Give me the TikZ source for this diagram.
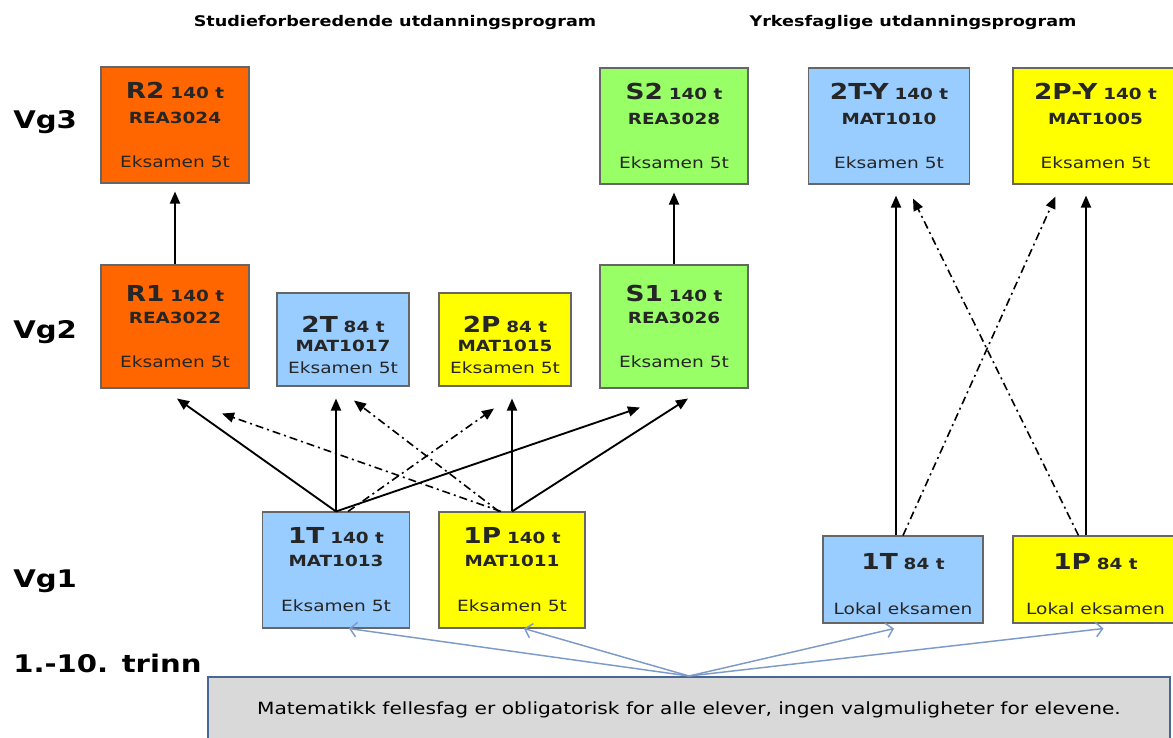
\documentclass[tikz,border=0pt]{standalone}
\usepackage{fontspec}
\setmainfont{DejaVu Sans}[FakeStretch=1.2]
\usetikzlibrary{arrows.meta,calc}

\definecolor{oransje}{RGB}{255,102,0}
\definecolor{gronn}{RGB}{153,255,102}
\definecolor{lysbla}{RGB}{153,204,255}
\definecolor{gul}{RGB}{255,255,0}
\definecolor{gra}{RGB}{217,217,217}
\definecolor{rammebla}{RGB}{72,102,150}
\definecolor{pilbla}{RGB}{125,155,200}

\newcommand{\kurs}[2]{{\fontsize{16.5}{16.5}\selectfont\bfseries #1} {\fontsize{11.5}{11.5}\selectfont\bfseries #2}}
\newcommand{\kode}[1]{{\fontsize{11.5}{11.5}\selectfont\bfseries #1}}

\tikzset{
  boks/.style 2 args={draw=black!60, line width=0.8pt, inner sep=0pt, align=center,
    text=black!85, font=\fontsize{11.6}{14}\selectfont,
    minimum width=#1*0.75pt, minimum height=#2*0.75pt},
  pil/.style={line width=1.4pt, -{Triangle[length=9pt,width=7.5pt]}},
  strek/.style={line width=1.2pt, dash pattern=on 6pt off 3pt on 1.5pt off 3pt},
  blapil/.style={pilbla, line width=1.1pt, -{Straight Barb[length=5pt,width=11pt]}},
  niva/.style={font=\fontsize{18.2}{18.2}\selectfont\bfseries, anchor=base west, inner sep=0pt},
  overskrift/.style={font=\fontsize{11}{11}\selectfont\bfseries, anchor=base, inner sep=0pt},
}

\begin{document}
\begin{tikzpicture}[x=0.75pt,y=-0.75pt]
  \path[fill=white, use as bounding box] (0,0) rectangle (1173,738);

  \node[overskrift] (studie) at (395,27) {Studieforberedende utdanningsprogram};
  \node[overskrift] (yrke)   at (913,27) {Yrkesfaglige utdanningsprogram};

  \node[niva] (vg3)   at (13,128) {Vg3};
  \node[niva] (vg2)   at (13,338) {Vg2};
  \node[niva] (vg1)   at (13,587) {Vg1};
  \node[niva] (trinn) at (13,672) {1.-10. trinn};

  % Vg3
  \node[boks={148}{116}, fill=oransje] (R2)  at (175,125)    {\kurs{R2}{140 t}\\[5pt]\kode{REA3024}\\[19pt]Eksamen 5t};
  \node[boks={148}{116}, fill=gronn]   (S2)  at (674,126)    {\kurs{S2}{140 t}\\[5pt]\kode{REA3028}\\[19pt]Eksamen 5t};
  \node[boks={161}{116}, fill=lysbla]  (T2Y) at (889,126)    {\kurs{2T-Y}{140 t}\\[5pt]\kode{MAT1010}\\[19pt]Eksamen 5t};
  \node[boks={165}{116}, fill=gul]     (P2Y) at (1095.5,126) {\kurs{2P-Y}{140 t}\\[5pt]\kode{MAT1005}\\[19pt]Eksamen 5t};

  % Vg2
  \node[boks={148}{123}, fill=oransje] (R1) at (175,326.5) {\kurs{R1}{140 t}\\[3pt]\kode{REA3022}\\[19pt]Eksamen 5t};
  \node[boks={132}{93},  fill=lysbla]  (T2) at (343,339.5) {\rule{0pt}{20.5pt}\kurs{2T}{84 t}\\[0pt]\kode{MAT1017}\\[3pt]Eksamen 5t};
  \node[boks={132}{93},  fill=gul]     (P2) at (505,339.5) {\rule{0pt}{20.5pt}\kurs{2P}{84 t}\\[0pt]\kode{MAT1015}\\[3pt]Eksamen 5t};
  \node[boks={148}{123}, fill=gronn]   (S1) at (674,326.5) {\kurs{S1}{140 t}\\[3pt]\kode{REA3026}\\[19pt]Eksamen 5t};

  % Vg1
  \node[boks={147}{116}, fill=lysbla] (T1)  at (336,570)    {\kurs{1T}{140 t}\\[3pt]\kode{MAT1013}\\[20pt]Eksamen 5t};
  \node[boks={146}{116}, fill=gul]    (P1)  at (512,570)    {\kurs{1P}{140 t}\\[3pt]\kode{MAT1011}\\[20pt]Eksamen 5t};
  \node[boks={160}{87},  fill=lysbla] (T1Y) at (903,579.5)  {\rule{0pt}{19pt}\kurs{1T}{84 t}\\[20pt]Lokal eksamen};
  \node[boks={165}{87},  fill=gul]    (P1Y) at (1095.5,579.5) {\rule{0pt}{19pt}\kurs{1P}{84 t}\\[20pt]Lokal eksamen};

  \node[draw=rammebla, line width=1.5pt, fill=gra, inner sep=0pt,
        minimum width=962*0.75pt, minimum height=66*0.75pt,
        font=\fontsize{12.6}{12.6}\selectfont] (alle) at (689,710)
        {Matematikk fellesfag er obligatorisk for alle elever, ingen valgmuligheter for elevene.};

  \draw[pil, shorten >=6pt] (R1.north) -- (R2.south);
  \draw[pil, shorten >=6pt] (S1.north) -- (S2.south);

  \draw[pil] (T1.north) -- ($(R1.south)+(2,10)$);
  \draw[pil] (T1.north) -- ($(T1.north |- T2.south)+(0,12)$);
  \draw[pil, strek] ($(T1.north)+(12,0)$) -- ($(P2.south)+(-11,22)$);
  \draw[pil] (T1.north) -- ($(S1.south)+(-34,19)$);

  \draw[pil, strek] ($(P1.north)+(-11,0)$) -- ($(R1.south)+(47,25)$);
  \draw[pil, strek] ($(P1.north)+(-13,0)$) -- ($(T2.south)+(11,14)$);
  \draw[pil] (P1.north) -- ($(P1.north |- P2.south)+(0,12)$);
  \draw[pil] (P1.north) -- ($(S1.south)+(14,10)$);

  \draw[pil] ($(T1Y.north)+(-7,0)$) -- ($(T1Y.north |- T2Y.south)+(-7,11)$);
  \draw[pil] ($(P1Y.north)+(-9.5,0)$) -- ($(P1Y.north |- P2Y.south)+(-9.5,11)$);
  \draw[pil, strek] (T1Y.north) -- ($(P2Y.south)+(-40,12)$);
  \draw[pil, strek] ($(P1Y.north)+(-17,0)$) -- ($(T2Y.south)+(24,14)$);

  \draw[blapil] (alle.north) -- ($(T1.south)+(13,0)$);
  \draw[blapil] (alle.north) -- ($(P1.south)+(12,0)$);
  \draw[blapil] (alle.north) -- ($(T1Y.south)+(-9,5)$);
  \draw[blapil] (alle.north) -- ($(P1Y.south)+(8,5)$);
\end{tikzpicture}
\end{document}
